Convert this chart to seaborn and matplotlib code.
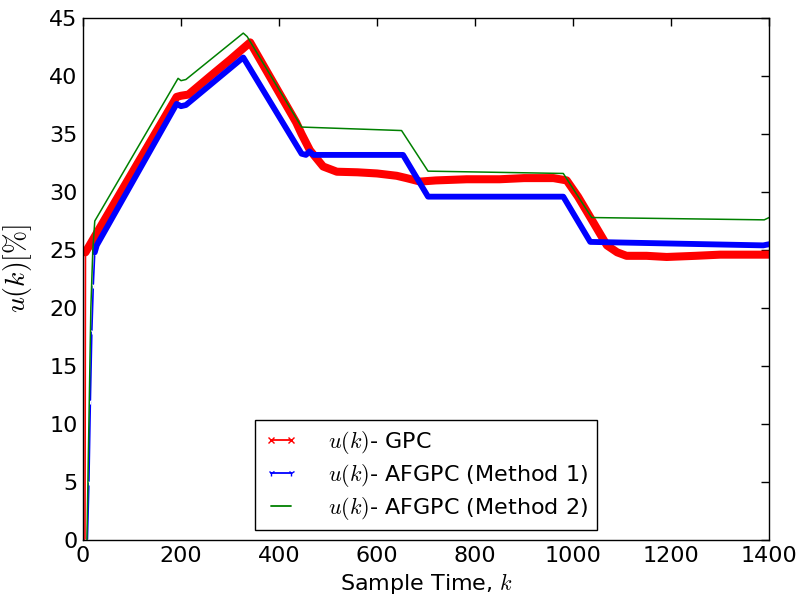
import numpy as np
import pandas as pd
import matplotlib
matplotlib.use("Agg")
import matplotlib.pyplot as plt
from matplotlib.lines import Line2D
import seaborn as sns

# ---- data (key points) ----
k_gpc = [4, 5, 191, 200, 215, 260, 300, 341, 435, 446, 463, 490, 518, 560, 600,
         640, 660, 688, 720, 783, 850, 900, 960, 987, 1010, 1041, 1069, 1090, 1109,
         1150, 1191, 1250, 1300, 1400]
u_gpc = [0.0, 24.8, 38.2, 38.3, 38.4, 40.0, 41.4, 42.9, 36.0, 35.0, 33.6, 32.2, 31.75,
         31.7, 31.6, 31.4, 31.2, 30.9, 31.0, 31.1, 31.1, 31.2, 31.2, 31.0, 29.6,
         27.4, 25.4, 24.8, 24.5, 24.5, 24.4, 24.5, 24.6, 24.6]

k_m1 = [9, 12, 15, 18, 21, 24, 28, 191, 200, 210, 327, 446, 455, 462, 470, 653, 704,
        980, 1035, 1388, 1400]
u_m1 = [0.0, 5.0, 12.0, 18.0, 22.0, 24.8, 25.4, 37.6, 37.4, 37.5, 41.6, 33.3, 33.2,
        33.5, 33.2, 33.2, 29.6, 29.6, 25.7, 25.4, 25.5]

k_m2 = [8, 12, 16, 20, 24, 194, 200, 210, 327, 335, 446, 650, 704, 980, 1038, 1390, 1400]
u_m2 = [0.0, 10.0, 20.0, 25.0, 27.5, 39.8, 39.6, 39.7, 43.7, 43.4, 35.6, 35.3, 31.8,
        31.6, 27.8, 27.6, 27.8]

labels = [r"$u(k)$- GPC", r"$u(k)$- AFGPC (Method 1)", r"$u(k)$- AFGPC (Method 2)"]
x_ticks = [0, 200, 400, 600, 800, 1000, 1200, 1400]
y_ticks = [0, 5, 10, 15, 20, 25, 30, 35, 40, 45]

sns.set_style("white")
plt.rcParams.update({
    "font.family": ["DejaVu Sans"],
    "mathtext.fontset": "cm",
    "text.color": "black",
    "axes.labelcolor": "black",
    "xtick.color": "black",
    "ytick.color": "black",
    "xtick.direction": "in",
    "ytick.direction": "in",
    "xtick.top": True,
    "ytick.right": True,
    "xtick.major.size": 6,
    "ytick.major.size": 6,
    "axes.edgecolor": "black",
    "axes.linewidth": 1.0,
})

fig = plt.figure(figsize=(8.02, 6.01), dpi=100)
ax = fig.add_axes([0.1035, 0.1015, 0.8555, 0.8685])

df1 = pd.DataFrame({"k": k_gpc, "u": u_gpc})
df2 = pd.DataFrame({"k": k_m1, "u": u_m1})
df3 = pd.DataFrame({"k": k_m2, "u": u_m2})

# initial rise: sparse samples -> thin lines
sns.lineplot(data=df1.iloc[:2], x="k", y="u", ax=ax, color="#ff0000", lw=1.2,
             sort=False, estimator=None)
sns.lineplot(data=df2.iloc[:6], x="k", y="u", ax=ax, color="#0000ff", lw=1.2,
             sort=False, estimator=None, marker="1", ms=4, mew=0.8)
# dense part: thick lines
sns.lineplot(data=df1.iloc[1:], x="k", y="u", ax=ax, color="#ff0000", lw=5.8,
             sort=False, estimator=None, solid_joinstyle="round", solid_capstyle="round")
sns.lineplot(data=df2.iloc[5:], x="k", y="u", ax=ax, color="#0000ff", lw=4.2,
             sort=False, estimator=None, solid_joinstyle="round", solid_capstyle="round")
sns.lineplot(data=df3, x="k", y="u", ax=ax, color="#008000", lw=1.1, sort=False,
             estimator=None)

ax.set_xlim(0, 1400)
ax.set_ylim(0, 45)
ax.set_xticks(x_ticks)
ax.set_yticks(y_ticks)
ax.tick_params(labelsize=16, width=1, color="black", pad=4)
ax.set_xlabel(r"Sample Time, $k$", fontsize=16)
ax.set_ylabel(r"$u(k)[\%]$", fontsize=20)
ax.yaxis.set_label_coords(-0.072, 0.52)

handles = [
    Line2D([], [], color="#ff0000", lw=1.3, marker="x", ms=4, mew=1),
    Line2D([], [], color="#0000ff", lw=1.3, marker="1", ms=4.5, mew=1),
    Line2D([], [], color="#008000", lw=1.3),
]
leg = ax.legend(handles, labels, loc="lower center", bbox_to_anchor=(0.5, -0.003),
                fontsize=16, numpoints=2, handlelength=1.5, handletextpad=1.4,
                fancybox=False, edgecolor="black", framealpha=1, borderpad=0.4,
                labelspacing=0.27)
leg.get_frame().set_linewidth(1.0)

fig.savefig("out.png", dpi=100)
